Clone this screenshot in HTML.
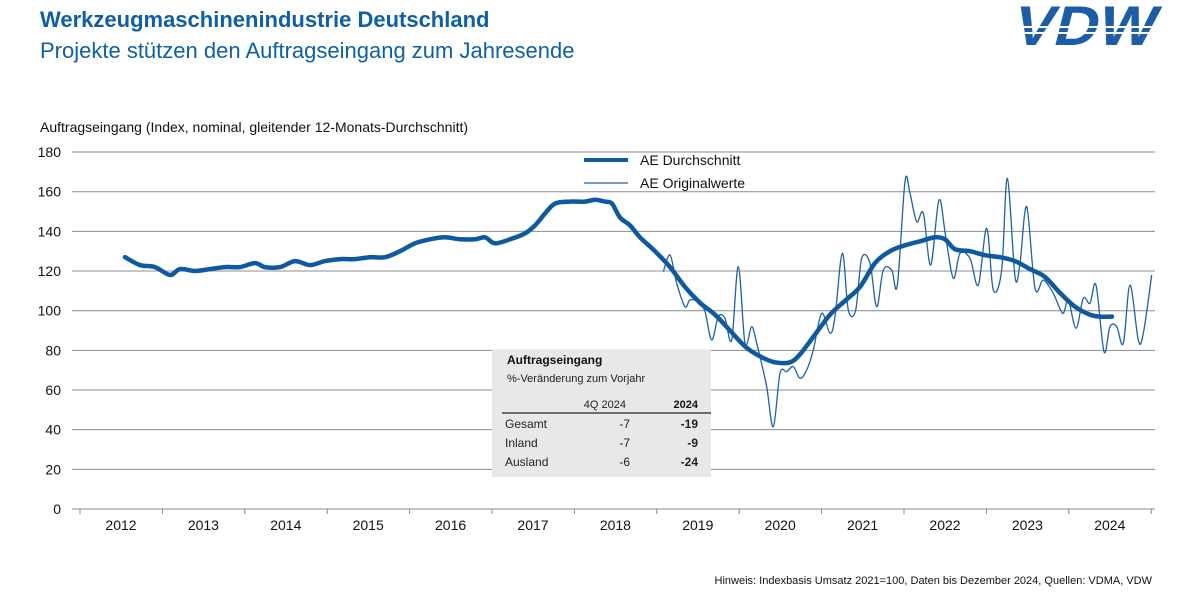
<!DOCTYPE html>
<html><head><meta charset="utf-8"><style>
body{margin:0;background:#fff;width:1200px;height:600px;overflow:hidden;font-family:"Liberation Sans",Arial,sans-serif}
svg text{font-family:"Liberation Sans",Arial,sans-serif}
</style></head><body>
<svg id="s" width="1200" height="600" xmlns="http://www.w3.org/2000/svg">
<text x="40" y="27" font-size="22" font-weight="bold" fill="#0f5fa6">Werkzeugmaschinenindustrie Deutschland</text>
<text x="40" y="58" font-size="22" fill="#0f5fa6">Projekte stützen den Auftragseingang zum Jahresende</text>
<g transform="skewX(-14)">
<text x="1022" y="45" font-size="56" font-weight="bold" fill="#1b5ea7" textLength="142" lengthAdjust="spacingAndGlyphs">VDW</text>
</g>
<rect x="1000" y="26" width="170" height="2" fill="#fff"/>
<rect x="1000" y="32" width="170" height="2" fill="#fff"/>
<text x="40" y="132" font-size="14" fill="#111">Auftragseingang (Index, nominal, gleitender 12-Monats-Durchschnitt)</text>
<g id="grid" stroke="#8c8c8c" stroke-width="1"></g>
<g id="lab" font-size="14" fill="#111"></g>
<rect x="492" y="350" width="219" height="127" fill="#e8e8e8"/>
<text x="507" y="364" font-size="12" font-weight="bold" fill="#111">Auftragseingang</text>
<text x="507" y="382" font-size="11" fill="#222">%-Veränderung zum Vorjahr</text>
<text x="626" y="408" font-size="11" fill="#222" text-anchor="end">4Q 2024</text>
<text x="698" y="408" font-size="11" font-weight="bold" fill="#111" text-anchor="end">2024</text>
<line x1="502" y1="413" x2="711" y2="413" stroke="#222" stroke-width="1.2"/>
<g font-size="12" fill="#222">
<text x="505" y="428">Gesamt</text><text x="630" y="428" text-anchor="end">-7</text><text x="698" y="428" text-anchor="end" font-weight="bold">-19</text>
<text x="505" y="447">Inland</text><text x="630" y="447" text-anchor="end">-7</text><text x="698" y="447" text-anchor="end" font-weight="bold">-9</text>
<text x="505" y="466">Ausland</text><text x="630" y="466" text-anchor="end">-6</text><text x="698" y="466" text-anchor="end" font-weight="bold">-24</text>
</g>
<path id="orig" fill="none" stroke="#1b62a8" stroke-width="1.3"/>
<path id="avg" fill="none" stroke="#0d5aa0" stroke-width="4.5" stroke-linejoin="round" stroke-linecap="round"/>
<line x1="584" y1="160" x2="628" y2="160" stroke="#0d5aa0" stroke-width="4"/>
<text x="640" y="165" font-size="14" fill="#111">AE Durchschnitt</text>
<line x1="584" y1="183" x2="628" y2="183" stroke="#1b62a8" stroke-width="1.3"/>
<text x="640" y="188" font-size="14" fill="#111">AE Originalwerte</text>
<text x="1152" y="584" font-size="11" fill="#111" text-anchor="end">Hinweis: Indexbasis Umsatz 2021=100, Daten bis Dezember 2024, Quellen: VDMA, VDW</text>
</svg>
<script>
var ns="http://www.w3.org/2000/svg";
function Y(v){return 509-v*1.983;}
var g=document.getElementById('grid'),l=document.getElementById('lab');
for(var v=0;v<=180;v+=20){var y=Y(v);
var e=document.createElementNS(ns,'line');e.setAttribute('x1',72);e.setAttribute('x2',1155);e.setAttribute('y1',y);e.setAttribute('y2',y);g.appendChild(e);
var t=document.createElementNS(ns,'text');t.setAttribute('x',61);t.setAttribute('y',y+5);t.setAttribute('text-anchor','end');t.textContent=v;l.appendChild(t);}
for(var i=0;i<=13;i++){var x=80+i*82.4;var e=document.createElementNS(ns,'line');e.setAttribute('x1',x);e.setAttribute('x2',x);e.setAttribute('y1',509);e.setAttribute('y2',514);g.appendChild(e);}
for(var i=0;i<13;i++){var t=document.createElementNS(ns,'text');t.setAttribute('x',121+i*82.4);t.setAttribute('y',530);t.setAttribute('text-anchor','middle');t.textContent=2012+i;l.appendChild(t);}
function cr(p){var d='M'+p[0][0]+','+p[0][1];for(var i=0;i<p.length-1;i++){var a=p[Math.max(0,i-1)],b=p[i],c=p[i+1],e=p[Math.min(p.length-1,i+2)];
d+=' C'+(b[0]+(c[0]-a[0])/6).toFixed(1)+','+(b[1]+(c[1]-a[1])/6).toFixed(1)+' '+(c[0]-(e[0]-b[0])/6).toFixed(1)+','+(c[1]-(e[1]-b[1])/6).toFixed(1)+' '+c[0].toFixed(1)+','+c[1].toFixed(1);}return d;}
var A=[[125,127],[140,123],[155,122],[170,118],[180,121],[195,120],[210,121],[225,122],[240,122],[255,124],[265,122],[280,122],[295,125],[310,123],[325,125],[340,126],[355,126],[370,127],[385,127],[400,130],[415,134],[430,136],[445,137],[460,136],[475,136],[485,137],[495,134],[510,136],[525,139],[535,143],[545,149],[555,154],[570,155],[585,155],[595,156],[605,155],[612,154],[620,147],[630,143],[640,137],[655,130],[670,122],[685,112],[700,104],[715,98],[730,90],[745,82],[760,77],[775,74],[790,74],[800,78],[815,88],[830,98],[845,105],[860,112],[875,124],[890,130],[905,133],[920,135],[935,137],[945,136],[955,131],[970,130],[985,128],[1000,127],[1015,125],[1030,121],[1045,117],[1060,109],[1075,102],[1090,98],[1100,97],[1112,97]].map(function(p){return [p[0],Y(p[1])];});
document.getElementById('avg').setAttribute('d',cr(A));
var O=[[70,305],[90,255],[110,340],[135,410],[150,390],[175,395],[195,425],[215,510],[235,440],[255,445],[275,510],[295,290],[315,520],[335,470],[350,520],[360,560],[380,650],[400,770],[420,610],[440,605],[460,590],[480,625],[500,600],[520,540],[545,430],[570,490],[585,440],[607,250],[625,420],[647,420],[665,265],[690,280],[710,410],[730,300],[755,300],[772,345],[795,35],[810,70],[830,155],[850,130],[872,285],[897,90],[917,200],[940,325],[960,250],[990,265],[1015,345],[1040,175],[1060,360],[1085,300],[1102,25],[1125,320],[1140,280],[1160,110],[1185,355],[1210,330],[1240,370],[1268,430],[1285,390],[1308,475],[1330,385],[1350,400],[1368,345],[1392,545],[1410,470],[1430,470],[1450,520],[1470,345],[1495,510],[1510,490],[1535,315]].map(function(p){return [640+p[0]/3,170+p[1]/3];});
document.getElementById('orig').setAttribute('d',cr(O));
</script>
</body></html>
